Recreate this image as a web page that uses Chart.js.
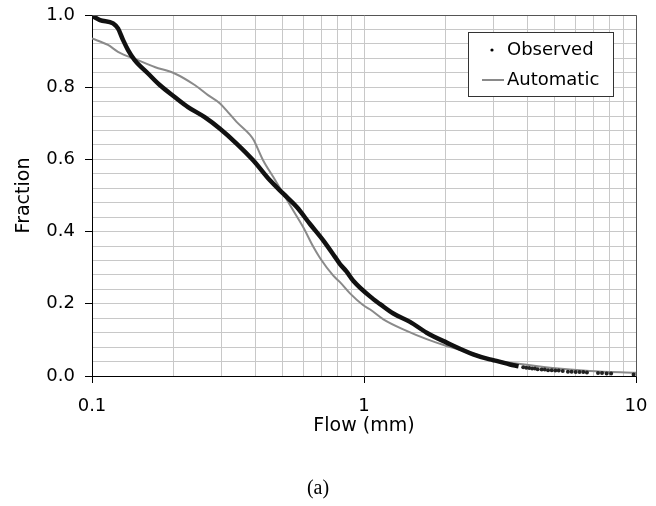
<!DOCTYPE html>
<html>
<head>
<meta charset="utf-8">
<script src="https://cdn.jsdelivr.net/npm/chart.js@4.4.1/dist/chart.umd.min.js"></script>
<style>
  html, body { margin: 0; padding: 0; background: #fff; }
  #wrap { width: 656px; height: 506px; }
</style>
</head>
<body>
<div id="wrap"><canvas id="flowChart" width="656" height="506"></canvas></div>
<script>
// Observed fraction
const obsX = [0.1, 0.107, 0.1195, 0.1246, 0.130, 0.1357, 0.1435, 0.1607, 0.1774, 0.2014,
  0.2254, 0.2596, 0.2955, 0.340, 0.392, 0.451, 0.505, 0.566, 0.633, 0.709,
  0.782, 0.816, 0.862, 0.913, 1.082, 1.146, 1.282, 1.476, 1.70, 2.014, 2.52, 2.90,
  3.07, 3.44, 3.7,
  3.85, 3.95, 4.05, 4.15, 4.25, 4.35, 4.5, 4.62, 4.75, 4.9, 5.05, 5.2, 5.38,
  5.62, 5.8, 6.0, 6.2, 6.4, 6.6, 7.25, 7.5, 7.8, 8.1, 9.8];
const obsY = [0.998, 0.986, 0.977, 0.963, 0.931, 0.903, 0.875, 0.838, 0.806, 0.773,
  0.745, 0.717, 0.685, 0.644, 0.597, 0.542, 0.505, 0.468, 0.421, 0.375,
  0.330, 0.310, 0.290, 0.264, 0.213, 0.199, 0.173, 0.150, 0.120, 0.0925, 0.060, 0.046,
  0.042, 0.032, 0.027,
  0.024, 0.023, 0.022, 0.021, 0.021, 0.019, 0.018, 0.018, 0.016, 0.016, 0.015, 0.015, 0.014,
  0.012, 0.012, 0.011, 0.011, 0.011, 0.010, 0.008, 0.008, 0.007, 0.007, 0.004];

// Automatic fraction
const autoX = [0.1, 0.1145, 0.1246, 0.1476, 0.170, 0.2014, 0.2386, 0.267, 0.2955, 0.316,
  0.340, 0.381, 0.392, 0.426, 0.464, 0.505, 0.550, 0.598, 0.651, 0.689, 0.771, 0.816,
  0.888, 0.994, 1.05, 1.178, 1.435, 1.70, 2.014, 2.45, 3.07, 3.5, 4.83, 6.76, 10];
const autoY = [0.935, 0.917, 0.898, 0.875, 0.856, 0.838, 0.806, 0.778, 0.755, 0.731,
  0.704, 0.668, 0.655, 0.597, 0.551, 0.505, 0.458, 0.412, 0.358, 0.327, 0.278, 0.260,
  0.229, 0.196, 0.185, 0.157, 0.125, 0.102, 0.083, 0.065, 0.042, 0.036, 0.023, 0.014, 0.009];

// Axis ticks
const xTickValues = [0.1, 0.2, 0.3, 0.4, 0.5, 0.6, 0.7, 0.8, 0.9,
  1, 2, 3, 4, 5, 6, 7, 8, 9, 10];
const xTickLabels = ['0.1', '1', '10'];
const yMin = 0, yMax = 1, yStep = 0.04;

const DOT_FROM = 3.7; // beyond this the observed points are drawn as separate dots
const SANS = "'DejaVu Sans', 'Liberation Sans', Arial, sans-serif";

Chart.defaults.font.family = SANS;
Chart.defaults.color = '#000';

const isDecade = v => xTickLabels.indexOf(String(v)) !== -1;
const isMajorY = v => Math.abs(v * 5 - Math.round(v * 5)) < 1e-6;

// legend box and the top/right frame
const framePlugin = {
  id: 'framePlugin',
  afterDraw(chart) {
    const { ctx, chartArea: a } = chart;
    ctx.save();
    ctx.strokeStyle = '#555';
    ctx.lineWidth = 1;
    ctx.beginPath();
    ctx.moveTo(Math.round(a.left) + 0.5, Math.round(a.top) + 0.5);
    ctx.lineTo(Math.round(a.right) + 0.5, Math.round(a.top) + 0.5);
    ctx.lineTo(Math.round(a.right) + 0.5, Math.round(a.bottom) + 0.5);
    ctx.stroke();

    // legend
    const bx = 468.5, by = 32.5, bw = 145, bh = 64;
    ctx.fillStyle = '#fff';
    ctx.fillRect(bx, by, bw, bh);
    ctx.strokeStyle = '#333';
    ctx.strokeRect(bx, by, bw, bh);
    ctx.font = '18px ' + SANS;
    ctx.fillStyle = '#000';
    ctx.textBaseline = 'middle';
    ctx.textAlign = 'left';
    ctx.beginPath();
    ctx.arc(492, 50, 1.6, 0, Math.PI * 2);
    ctx.fill();
    ctx.fillText('Observed', 507, 50);
    ctx.strokeStyle = '#8a8a8a';
    ctx.lineWidth = 2;
    ctx.beginPath();
    ctx.moveTo(482, 80);
    ctx.lineTo(504, 80);
    ctx.stroke();
    ctx.fillText('Automatic', 507, 80);
    ctx.restore();
  }
};

const ctx = document.getElementById('flowChart');
new Chart(ctx, {
  type: 'scatter',
  data: {
    datasets: [{
      label: 'Automatic',
      data: autoX.map((x, i) => ({ x: x, y: autoY[i] })),
      showLine: true,
      borderColor: '#8a8a8a',
      borderWidth: 2,
      pointRadius: 0,
      cubicInterpolationMode: 'monotone',
      order: 2
    }, {
      label: 'Observed',
      data: obsX.map((x, i) => ({ x: x, y: obsY[i] })),
      showLine: true,
      borderColor: '#111',
      borderWidth: 4.5,
      pointRadius: c => (c.raw && c.raw.x > DOT_FROM) ? 2 : 0,
      pointBackgroundColor: '#222',
      pointBorderWidth: 0,
      cubicInterpolationMode: 'monotone',
      segment: {
        borderColor: c => c.p0.parsed.x >= DOT_FROM - 1e-9 ? 'transparent' : '#111'
      },
      order: 1
    }]
  },
  options: {
    responsive: false,
    animation: false,
    events: [],
    layout: { padding: { top: 15, right: 20, left: 0, bottom: 0 } },
    plugins: {
      legend: { display: false },
      tooltip: { enabled: false },
      title: {
        display: true,
        position: 'bottom',
        text: '(a)',
        color: '#000',
        font: { family: "'Liberation Serif', 'Times New Roman', serif", size: 20, weight: 'normal' },
        padding: { top: 28, bottom: 5 }
      }
    },
    scales: {
      x: {
        type: 'logarithmic',
        min: 0.1,
        max: 10,
        afterBuildTicks: s => { s.ticks = xTickValues.map(v => ({ value: v })); },
        afterFit: s => { s.height = 73; s.paddingLeft = 0; s.paddingRight = 0; },
        grid: {
          color: '#c8c8c8',
          lineWidth: 1,
          drawTicks: true,
          tickLength: 7,
          tickColor: c => (c.tick && isDecade(c.tick.value)) ? '#000' : 'transparent'
        },
        border: { color: '#000', width: 1 },
        ticks: {
          autoSkip: false,
          maxRotation: 0,
          padding: 13,
          font: { size: 18 },
          callback: v => isDecade(v) ? String(v) : ''
        },
        title: {
          display: true,
          text: 'Flow (mm)',
          font: { size: 19 },
          padding: { top: 0, bottom: 12 }
        }
      },
      y: {
        min: yMin,
        max: yMax,
        afterFit: s => { s.width = 92; s.paddingTop = 0; s.paddingBottom = 0; },
        grid: {
          color: '#c8c8c8',
          lineWidth: 1,
          drawTicks: true,
          tickLength: 7,
          tickColor: c => (c.tick && isMajorY(c.tick.value)) ? '#000' : 'transparent'
        },
        border: { color: '#000', width: 1 },
        ticks: {
          stepSize: yStep,
          autoSkip: false,
          padding: 10,
          font: { size: 18 },
          callback: v => isMajorY(v) ? v.toFixed(1) : ''
        },
        title: {
          display: true,
          text: 'Fraction',
          font: { size: 19 },
          padding: { top: 13, bottom: 0 }
        }
      }
    }
  },
  plugins: [framePlugin]
});
</script>
</body>
</html>
